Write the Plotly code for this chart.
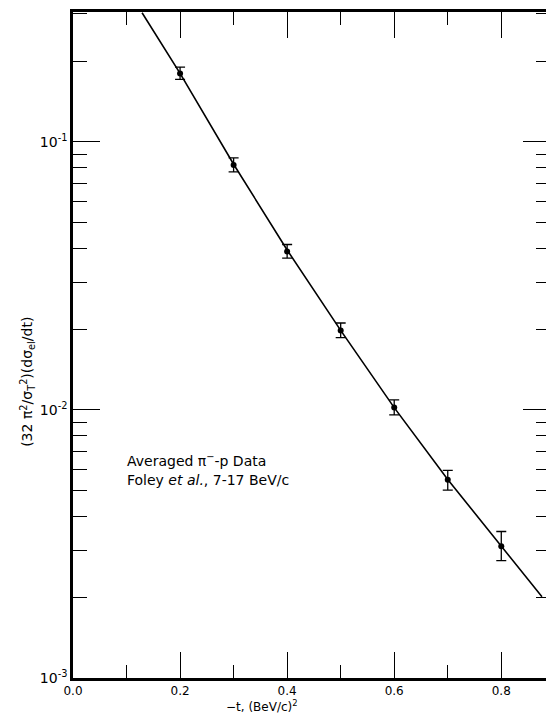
import math
import plotly.graph_objects as go

# ---- data ----
t_data = [0.2, 0.3, 0.4, 0.5, 0.6, 0.7, 0.8]
ds_data = [0.180, 0.0819, 0.0390, 0.0198, 0.0102, 0.00549, 0.00310]
ds_hi = [0.190, 0.0872, 0.0414, 0.0211, 0.01091, 0.00595, 0.00352]
ds_lo = [0.171, 0.0772, 0.0368, 0.0186, 0.00959, 0.00502, 0.00274]

curve_t = [0.129, 0.2, 0.3, 0.4, 0.5, 0.6, 0.7, 0.8, 0.876]
curve_v = [0.303, 0.180, 0.0825, 0.0395, 0.0198, 0.0102, 0.0055, 0.0031, 0.00201]

x_tickvals = [0.0, 0.2, 0.4, 0.6, 0.8]
x_ticktext = ["0.0", "0.2", "0.4", "0.6", "0.8"]
x_minor = [0.1, 0.3, 0.5, 0.7]
y_tickvals = [0.001, 0.01, 0.1]
y_ticktext = ["10<sup>-3</sup>", "10<sup>-2</sup>", "10<sup>-1</sup>"]

y_minor = [m * d for d in (0.001, 0.01, 0.1) for m in range(2, 10) if m * d < 0.31]

FONT = "DejaVu Sans"

fig = go.Figure()
fig.add_trace(go.Scatter(
    x=curve_t, y=curve_v, mode="lines",
    line=dict(color="black", width=1.6), showlegend=False, hoverinfo="skip"))
fig.add_trace(go.Scatter(
    x=t_data, y=ds_data, mode="markers",
    marker=dict(color="black", size=6),
    error_y=dict(type="data", symmetric=False,
                 array=[h - v for h, v in zip(ds_hi, ds_data)],
                 arrayminus=[v - l for v, l in zip(ds_data, ds_lo)],
                 color="black", thickness=1.3, width=5),
    showlegend=False))

# the page body adds an 8px margin, so the figure is drawn 8px smaller
fig.update_layout(
    width=546, height=708,
    margin=dict(l=65, r=3, t=1, b=38),
    paper_bgcolor="white", plot_bgcolor="white",
    font=dict(family=FONT, color="black", size=13),
    xaxis=dict(
        range=[0, 0.891], showgrid=False, zeroline=False,
        showline=True, linecolor="black", linewidth=2.5, mirror="ticks",
        ticks="inside", ticklen=26, tickwidth=1.4, tickcolor="black",
        tickvals=x_tickvals, ticktext=x_ticktext,
        tickfont=dict(family=FONT, size=12),
        minor=dict(ticks="inside", ticklen=13, tickwidth=1.4, tickcolor="black",
                   tickvals=x_minor, showgrid=False),
    ),
    yaxis=dict(
        type="log", range=[-3, math.log10(0.305)], showgrid=False, zeroline=False,
        showline=True, linecolor="black", linewidth=2.5, mirror="ticks",
        ticks="inside", ticklen=27, tickwidth=1.4, tickcolor="black",
        tickvals=y_tickvals, ticktext=y_ticktext,
        tickfont=dict(family=FONT, size=14),
        minor=dict(ticks="inside", ticklen=14, tickwidth=1.4, tickcolor="black",
                   tickvals=y_minor, showgrid=False),
    ),
    annotations=[
        dict(text="−t, (BeV/c)<sup>2</sup>", xref="paper", yref="paper",
             x=0.397, y=-0.057, xanchor="center", yanchor="bottom",
             showarrow=False, font=dict(family=FONT, size=12)),
        dict(text="(32 π<sup>2</sup>/σ<sub>T</sub><sup>2</sup>)(dσ<sub>el</sub>/dt)",
             xref="paper", yref="paper", x=-0.096, y=0.445, textangle=-90,
             xanchor="center", yanchor="middle", showarrow=False,
             font=dict(family=FONT, size=14)),
        dict(text="Averaged π<sup>−</sup>-p Data", xref="paper", yref="paper",
             x=0.108, y=0.328, xanchor="left", yanchor="middle",
             showarrow=False, font=dict(family=FONT, size=14)),
        dict(text="Foley <i>et al.</i>, 7-17 BeV/c", xref="paper", yref="paper",
             x=0.108, y=0.297, xanchor="left", yanchor="middle",
             showarrow=False, font=dict(family=FONT, size=14)),
    ],
)

fig.write_html("out.html")
